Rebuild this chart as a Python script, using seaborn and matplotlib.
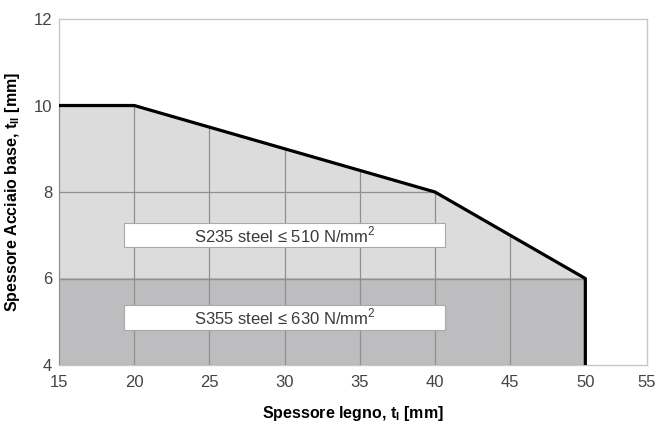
import numpy as np
import pandas as pd
import matplotlib
matplotlib.use("Agg")
import matplotlib.pyplot as plt
import seaborn as sns
from matplotlib.patches import Polygon

# Data
t_legno = [15, 20, 30, 40, 50, 50]
t_acciaio = [10, 10, 9, 8, 6, 4]
s355_limit = 6
y_min, y_max = 4, 12
x_min, x_max_axis = 15, 54.1
x_ticks = [15, 20, 25, 30, 35, 40, 45, 50, 55]
y_ticks = [4, 6, 8, 10, 12]
box_labels = ["S235 steel ≤ 510 N/mm$^2$", "S355 steel ≤ 630 N/mm$^2$"]
box_y = [7.0, 5.1]
box_x = [19.3, 40.7]

sns.set_theme(style="white")
plt.rcParams['font.family'] = ['Liberation Sans', 'DejaVu Sans']
plt.rcParams['mathtext.fontset'] = 'custom'
plt.rcParams['mathtext.rm'] = 'Liberation Sans'
plt.rcParams['mathtext.bf'] = 'Liberation Sans:bold'

fig = plt.figure(figsize=(6.56, 4.24), dpi=100)
ax = fig.add_axes([59/656, 1-365/424, (647-59)/656, (365-19)/424])

df = pd.DataFrame({"x": t_legno, "y": t_acciaio})
xs = np.array(t_legno[:-1], dtype=float)
ys = np.array(t_acciaio[:-1], dtype=float)

ax.fill_between(xs, s355_limit, ys, color="#dcdcdd", lw=0, zorder=1)
ax.fill_between([xs[0], xs[-1]], y_min, s355_limit, color="#bdbdbf", lw=0, zorder=1.2)
ax.plot([xs[0], xs[-1]], [s355_limit, s355_limit], color="#a8a8a8", lw=1.0, zorder=1.5)

sns.lineplot(data=df, x="x", y="y", sort=False, estimator=None,
             color="black", lw=2.3, ax=ax, zorder=3)

ax.set_xlim(x_min, x_max_axis)
ax.set_ylim(y_min, y_max)
ax.set_xticks([min(t, x_max_axis) for t in x_ticks], [str(t) for t in x_ticks])
ax.set_yticks(y_ticks, [str(t) for t in y_ticks])
ax.tick_params(axis="both", length=0, labelsize=12, colors="#444444")
ax.tick_params(axis="x", pad=7)
ax.tick_params(axis="y", pad=5)

ax.set_axisbelow(False)
ax.grid(True, color="#8f8f8f", lw=0.9)
poly_pts = list(zip(xs, ys)) + [(xs[-1], y_min), (xs[0], y_min)]
clip = Polygon(poly_pts, closed=True, transform=ax.transData, fill=False)
for gl in ax.get_xgridlines() + ax.get_ygridlines():
    gl.set_clip_path(clip)
    gl.set_zorder(2)

for sp in ax.spines.values():
    sp.set_color("#c8c8c8")
    sp.set_linewidth(1.0)

for lab, yb in zip(box_labels, box_y):
    xc = (box_x[0] + box_x[1]) / 2
    ax.add_patch(plt.Rectangle((box_x[0], yb - 0.28), box_x[1] - box_x[0], 0.56,
                               facecolor="white", edgecolor="#a8a8a8", lw=0.8, zorder=4))
    ax.text(xc, yb, lab, ha="center", va="center", fontsize=12, color="#3a3a3a", zorder=5)

ax.set_xlabel(r"Spessore legno, $\mathbf{t_{I}}$ [mm]", fontsize=11.5, fontweight="bold", color="black", labelpad=10)
ax.set_ylabel(r"Spessore Acciaio base, $\mathbf{t_{II}}$ [mm]", fontsize=11.5, fontweight="bold", color="black", labelpad=8)

fig.savefig("out.png", dpi=100)
